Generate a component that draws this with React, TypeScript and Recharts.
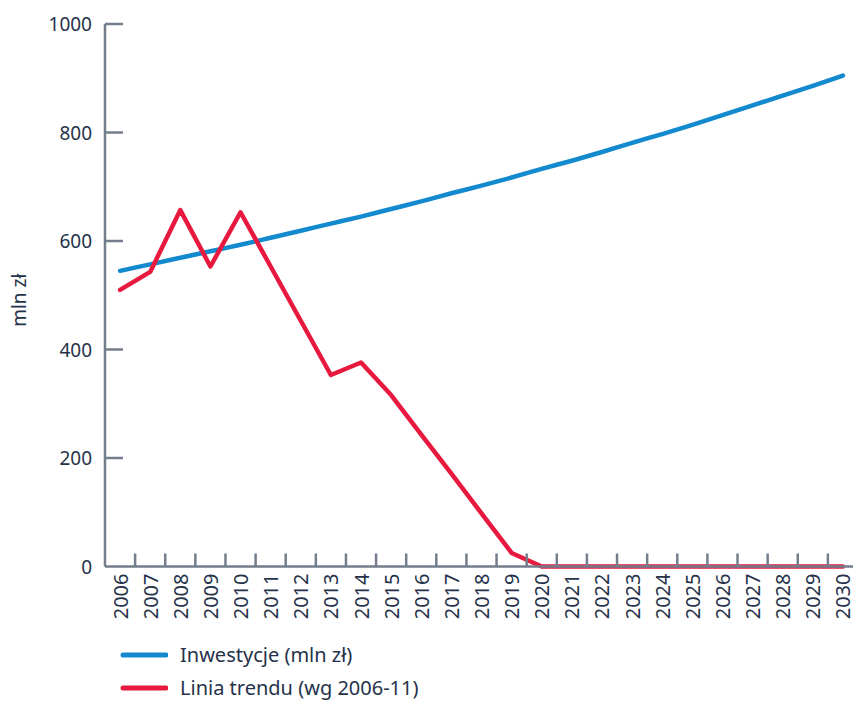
import React from 'react';
import { LineChart, Line, XAxis, YAxis, Legend, Label } from 'recharts';

// years on the x axis
const years = [
  2006, 2007, 2008, 2009, 2010, 2011, 2012, 2013, 2014, 2015, 2016, 2017, 2018,
  2019, 2020, 2021, 2022, 2023, 2024, 2025, 2026, 2027, 2028, 2029, 2030,
];

// Inwestycje (mln zł)
const investments = [
  545, 557, 569, 581, 593, 606, 619, 632, 645, 659, 673, 688, 702,
  717, 733, 748, 764, 781, 797, 814, 832, 850, 868, 886, 905,
];

// Linia trendu (wg 2006-11)
const trend = [
  510, 543, 657, 553, 653, 553, 453, 353, 376, 316, 243, 171, 98,
  25, 0, 0, 0, 0, 0, 0, 0, 0, 0, 0, 0,
];

const yTicks = [0, 200, 400, 600, 800, 1000];

const data = years.map((year, i) => ({
  year,
  inv: investments[i],
  trend: trend[i],
}));

const BLUE = '#138ACD';
const RED = '#E8193F';
const AXIS = '#737D8C';
const TEXT = '#25324A';
const FONT = '"Noto Sans", sans-serif';

const W = 853;
const H = 702;
const LEFT = 105;
const RIGHT = -5;
const PLOT_W = W - LEFT - RIGHT;
const HALF_BAND = PLOT_W / years.length / 2;

const YTick = (props: any) => {
  const { x, y, payload } = props;
  const axisX = x + 13;
  return (
    <g>
      {payload.value !== 0 && (
        <line x1={axisX} x2={axisX + 18} y1={y} y2={y} stroke={AXIS} strokeWidth={2.5} />
      )}
      <text x={x} y={y} textAnchor="end" dominantBaseline="central" fill={TEXT} fontSize={19} fontFamily={FONT}>
        {payload.value}
      </text>
    </g>
  );
};

const XTick = (props: any) => {
  const { x, y, payload, index } = props;
  const axisY = y - 7;
  return (
    <g>
      {index < years.length - 1 && (
        <line
          x1={x + HALF_BAND}
          x2={x + HALF_BAND}
          y1={axisY}
          y2={axisY - 13}
          stroke={AXIS}
          strokeWidth={2.5}
        />
      )}
      <text
        x={x}
        y={y}
        transform={`rotate(-90, ${x}, ${y})`}
        textAnchor="end"
        dominantBaseline="central"
        fill={TEXT}
        fontSize={20}
        fontFamily={FONT}
      >
        {payload.value}
      </text>
    </g>
  );
};

const YLabel = (props: any) => {
  const vb = props.viewBox || { x: 0, y: 0, width: 0, height: 0 };
  const cx = vb.x + 19;
  const cy = vb.y + vb.height / 2 + 5;
  return (
    <text
      x={cx}
      y={cy}
      transform={`rotate(-90, ${cx}, ${cy})`}
      textAnchor="middle"
      dominantBaseline="central"
      fill={TEXT}
      fontSize={19}
      fontFamily={FONT}
    >
      mln zł
    </text>
  );
};

const renderLegend = (props: any) => (
  <div style={{ height: 75, fontFamily: FONT }}>
    {(props.payload || []).map((entry: any) => (
      <div key={entry.value} style={{ display: 'flex', alignItems: 'center', height: 33 }}>
        <svg width={48} height={10}>
          <line x1={3} y1={5} x2={46} y2={5} stroke={entry.color} strokeWidth={5} strokeLinecap="round" />
        </svg>
        <span style={{ marginLeft: 12, fontSize: 20, color: TEXT }}>{entry.value}</span>
      </div>
    ))}
  </div>
);

export default function App() {
  return (
    <div style={{ position: 'absolute', left: 0, top: 0 }}>
      <LineChart width={W} height={H} data={data} margin={{ top: 24, right: RIGHT, left: 0, bottom: 0 }}>
        <XAxis
          dataKey="year"
          type="number"
          domain={[2005.5, 2030.5]}
          ticks={years}
          interval={0}
          height={60.5}
          tickSize={0}
          tickMargin={7}
          tickLine={false}
          axisLine={{ stroke: AXIS, strokeWidth: 2.5 }}
          tick={<XTick />}
        />
        <YAxis
          domain={[0, 1000]}
          ticks={yTicks}
          width={LEFT}
          tickSize={0}
          tickMargin={13}
          tickLine={false}
          axisLine={{ stroke: AXIS, strokeWidth: 2.5 }}
          tick={<YTick />}
        >
          <Label position="insideLeft" content={<YLabel />} />
        </YAxis>
        <Legend
          verticalAlign="bottom"
          align="left"
          layout="horizontal"
          content={renderLegend}
          wrapperStyle={{ left: 120, top: 638, width: 'auto' }}
        />
        <Line
          name="Inwestycje (mln zł)"
          dataKey="inv"
          type="monotone"
          stroke={BLUE}
          strokeWidth={4.5}
          strokeLinecap="round"
          dot={false}
          isAnimationActive={false}
        />
        <Line
          name="Linia trendu (wg 2006-11)"
          dataKey="trend"
          type="linear"
          stroke={RED}
          strokeWidth={4.5}
          strokeLinecap="round"
          strokeLinejoin="round"
          dot={false}
          isAnimationActive={false}
        />
      </LineChart>
    </div>
  );
}
